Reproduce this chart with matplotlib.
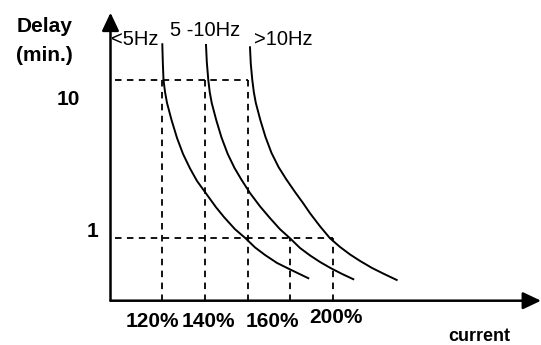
import matplotlib
matplotlib.use("Agg")
import matplotlib.pyplot as plt

plt.rcParams["font.family"] = ["Liberation Sans", "DejaVu Sans"]

W, H = 541, 345

# current in % of rated, delay in minutes (log scale)
c1_x = [120.01, 120.24, 120.57, 121.28, 122.21, 124.33, 126.91, 129.72, 133.01, 136.29,
        140.99, 145.20, 148.96, 154.12, 159.04, 163.50, 168.19, 173.82, 180.39, 188.51]
c1_y = [16.81, 12.99, 10.0, 8.40, 7.16, 5.59, 4.30, 3.41, 2.76, 2.30,
        1.88, 1.57, 1.36, 1.14, 1.0, 0.875, 0.784, 0.698, 0.631, 0.559]

c2_x = [140.51, 140.89, 141.59, 142.25, 143.19, 145.30, 147.78, 150.69, 153.88, 157.17, 161.15,
        165.85, 170.54, 175.23, 179.92, 184.61, 189.30, 193.99, 199.15, 204.32, 209.62]
c2_y = [16.64, 12.99, 10.0, 8.40, 7.16, 5.59, 4.33, 3.41, 2.78, 2.34, 1.93,
        1.59, 1.34, 1.14, 1.0, 0.868, 0.779, 0.708, 0.646, 0.595, 0.551]

c3_x = [161.15, 161.53, 162.23, 162.94, 163.88, 165.99, 168.43, 171.24, 174.53, 178.05, 182.27,
        186.02, 189.30, 193.99, 198.68, 203.38, 208.07, 212.76, 218.39, 224.02, 229.98]
c3_y = [16.09, 12.62, 10.0, 8.40, 7.16, 5.59, 4.36, 3.46, 2.82, 2.37, 1.96,
        1.67, 1.44, 1.19, 1.0, 0.881, 0.790, 0.719, 0.649, 0.595, 0.545]

curve_names = ["<5Hz", "5 -10Hz", ">10Hz"]

guide_x = [120, 140, 160, 180, 200]
guide_top = [10, 10, 10, 1, 1]
level_y = [10, 1]
level_end = [160, 200]

y_labels = ["10", "1"]
x_labels = ["120%", "140%", "160%", "200%"]

x_min, x_max = 95.7, 297.7
y_min, y_max = 0.403, 26.6

fig = plt.figure(figsize=(W / 100, H / 100), dpi=100)
ax = fig.add_axes([110.5 / W, 1 - 300.7 / H, 430.5 / W, (300.7 - 12.7) / H])
ax.set_yscale("log")
ax.set_xlim(x_min, x_max)
ax.set_ylim(y_min, y_max)
ax.axis("off")

dash = dict(color="black", lw=1.3, linestyle=(0, (3.6, 3.0)))
for gx, gt in zip(guide_x, guide_top):
    ax.plot([gx, gx], [y_min, gt], **dash)
for ly, le in zip(level_y, level_end):
    ax.plot([x_min + 2, le], [ly, ly], **dash)

for xs, ys in [(c1_x, c1_y), (c2_x, c2_y), (c3_x, c3_y)]:
    ax.plot(xs, ys, color="black", lw=1.4, solid_joinstyle="round")

arrow = dict(arrowstyle="-|>,head_length=0.55,head_width=0.26", color="black",
             lw=1.8, mutation_scale=20, shrinkA=0, shrinkB=0)
ax.annotate("", xy=(x_min, y_max), xytext=(x_min, y_min), arrowprops=arrow,
            annotation_clip=False)
ax.annotate("", xy=(x_max, y_min), xytext=(x_min, y_min), arrowprops=arrow,
            annotation_clip=False)


def put(txt, x, y, size=14, bold=False, ha="center"):
    fig.text(x / W, 1 - y / H, txt, ha=ha, va="baseline", fontsize=size,
             fontweight="bold" if bold else "normal")


put("Delay", 44.5, 31.7, 15, True)
put("(min.)", 44.5, 61, 15, True)
put(y_labels[0], 68.3, 105, 15, True)
put(y_labels[1], 92, 236.7, 15, True)

put(curve_names[0], 135, 45, 14.5)
put(curve_names[1], 205.5, 36, 14.5)
put(curve_names[2], 283.7, 45, 14.5)

put(x_labels[0], 152, 327.3, 15, True)
put(x_labels[1], 208.3, 327.3, 15, True)
put(x_labels[2], 272.3, 326.7, 15, True)
put(x_labels[3], 336.3, 323.3, 15, True)
put("current", 479.7, 341, 13, True)

fig.savefig("out.png", dpi=100)
